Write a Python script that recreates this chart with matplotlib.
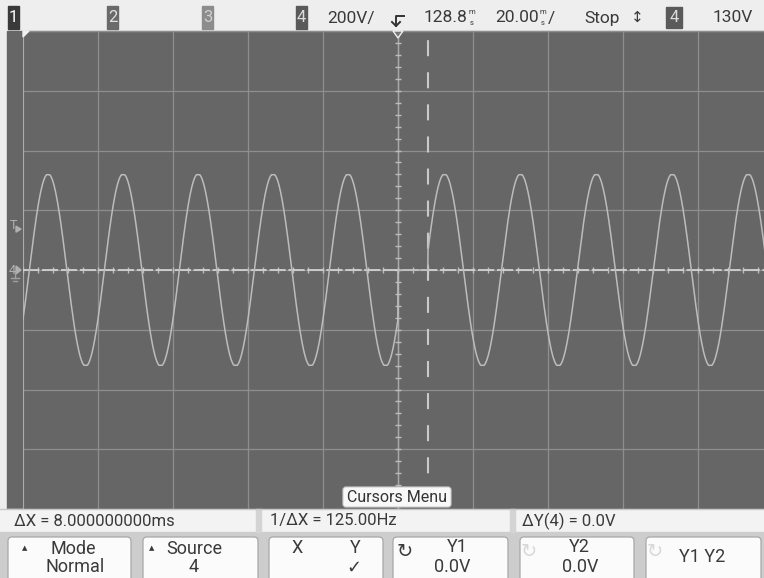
import numpy as np
import matplotlib
matplotlib.use('Agg')
from matplotlib import pyplot as plt
from matplotlib.patches import Rectangle, FancyBboxPatch, Polygon

# Scope settings.
time_per_div_ms = 20.0
volts_per_div = 200.0
trigger_level_v = 130.0

# Channel 4 trace: mains sine with an 8 ms dropout after the trigger.
amplitude_v = 322.0
flat_top_v = 319.0
period_before_ms = 20.0
period_after_ms = 20.25
peak_before_ms = -93.3
peak_after_ms = 12.4
dropout_start_ms = 0.0
dropout_end_ms = 8.0

# Cursors.
cursor_x1_ms = 0.0
cursor_x2_ms = 8.0
cursor_y_v = 0.0

# Texts.
top_channels = ['1', '2', '3', '4']
top_texts = ['200V/', '128.8', '20.00', 'Stop', '130V']
status_texts = ['\u0394X = 8.000000000ms', '1/\u0394X = 125.00Hz', '\u0394Y(4) = 0.0V']
softkey_top = ['Mode', 'Source', 'X', 'Y1', 'Y2']
softkey_bottom = ['Normal', '4', '\u2713', '0.0V', '0.0V']

W, H = 764, 578
NARROW = ['Liberation Sans Narrow', 'Roboto', 'DejaVu Sans']
UI = ['Roboto', 'DejaVu Sans']


def main():
    fig = plt.figure(figsize=(W / 100, H / 100), dpi=100)
    fig.patch.set_facecolor('#ededed')

    # Background UI layer in pixel coordinates.
    bg = fig.add_axes([0, 0, 1, 1], zorder=0)
    bg.set_xlim(0, W)
    bg.set_ylim(H, 0)
    bg.axis('off')
    bg.add_patch(Rectangle((0, 0), W, 31, color='#eeeeee'))
    bg.add_patch(Rectangle((7, 31), W, 478, color='#666666'))
    bg.add_patch(Rectangle((0, 509), W, 23, color='#f3f3f3'))
    bg.add_patch(Rectangle((0, 532), W, 46, color='#cdcdcd'))

    # Scope screen in real units.
    ax = fig.add_axes([23 / W, 1 - 509 / H, 750 / W, 478 / H], zorder=1)
    ax.set_facecolor('#666666')
    half_t = 5 * time_per_div_ms
    half_v = 4 * volts_per_div
    ax.set_xlim(-half_t, half_t)
    ax.set_ylim(-half_v, half_v)
    ax.set_xticks(np.arange(-half_t, half_t + 1, time_per_div_ms))
    ax.set_yticks(np.arange(-half_v, half_v + 1, volts_per_div))
    ax.tick_params(length=0, labelbottom=False, labelleft=False)
    ax.grid(True, color='#8e8e8e', lw=0.9)
    for s in ax.spines.values():
        s.set_visible(False)
    ax.axvline(-half_t, color='#adadad', lw=1.4)
    ax.axhline(half_v, color='#8e8e8e', lw=1.0)

    # Center crosshair with minor ticks.
    ax.axvline(0, color='#a9a9a9', lw=1.0)
    mt = np.arange(-half_t, half_t + 0.1, time_per_div_ms / 5)
    ax.plot(mt, np.zeros_like(mt), ls='none', marker='|', ms=4, mew=1.0, color='#bdbdbd')
    mv = np.arange(-half_v, half_v + 0.1, volts_per_div / 5)
    ax.plot(np.zeros_like(mv), mv, ls='none', marker='_', ms=4, mew=1.0, color='#bdbdbd')

    # Y1/Y2 cursors at 0 V.
    ax.axhline(cursor_y_v, color='#d2d2d2', lw=1.3, dashes=(9, 1.5))

    # X2 cursor.
    ax.plot([cursor_x2_ms, cursor_x2_ms], [half_v, -half_v], color='#c9c9c9', lw=1.5,
            linestyle=(11.0, (7.7, 7.7)))

    # Trace.
    t = np.linspace(-half_t, half_t, 4001)
    before = amplitude_v * np.cos(2 * np.pi * (t - peak_before_ms) / period_before_ms)
    after = amplitude_v * np.cos(2 * np.pi * (t - peak_after_ms) / period_after_ms)
    v = np.where(t < dropout_start_ms, before, np.where(t < dropout_end_ms, 0.0, after))
    v = np.clip(v, -flat_top_v, flat_top_v)
    ax.plot(t, v, color='#bcbcbc', lw=1.1)

    # Foreground UI layer.
    ui = fig.add_axes([0, 0, 1, 1], zorder=2)
    ui.set_xlim(0, W)
    ui.set_ylim(H, 0)
    ui.axis('off')
    ui.patch.set_alpha(0)

    # Top bar channel boxes.
    box_x = [8, 107, 202, 296]
    box_fc = ['#3a3a3a', '#6a6a6a', '#8c8c8c', '#5a5a5a']
    box_tc = ['#ffffff', '#e0e0e0', '#d0d0d0', '#dddddd']
    for name, x0, fc, tc in zip(top_channels, box_x, box_fc, box_tc):
        ui.add_patch(Rectangle((x0, 6), 11, 23, color=fc))
        ui.text(x0 + 5.5, 18, name, color=tc, fontsize=12, ha='center', va='center',
                family=NARROW)
    top_x = [327, 424, 495, 584, 713]
    for txt, x0 in zip(top_texts, top_x):
        ui.text(x0, 18, txt, color='#3a3a3a', fontsize=12.5, ha='left', va='center', family=NARROW)
    for x0 in [472, 543]:
        ui.text(x0, 12.5, 'm', color='#3a3a3a', fontsize=5.5, ha='center', va='center', family=NARROW)
        ui.text(x0, 23, 's', color='#3a3a3a', fontsize=5.5, ha='center', va='center', family=NARROW)
    ui.text(548, 18, '/', color='#3a3a3a', fontsize=12.5, ha='left', va='center', family=NARROW)
    ui.text(637, 18, '\u2195', color='#3a3a3a', fontsize=11, ha='center', va='center', family=UI)
    ui.add_patch(Rectangle((666, 7), 16, 21, color='#5a5a5a'))
    ui.text(674, 18, '4', color='#dddddd', fontsize=12, ha='center', va='center', family=NARROW)

    # Trigger edge icon and time reference marker.
    ui.plot([404, 396, 396], [16, 16, 26], color='#333333', lw=1.4)
    ui.plot([392, 396, 400], [22, 26, 22], color='#333333', lw=1.4)
    ui.add_patch(Polygon([[393, 31], [403, 31], [398, 38]], closed=True,
                         fc='#777777', ec='#f0f0f0', lw=1.0))
    ui.add_patch(Polygon([[23, 31], [29, 31], [23, 37]], closed=True, color='#f0f0f0'))

    # Left markers: trigger level and channel 4 ground.
    y_trig = 270 - trigger_level_v / volts_per_div * 59.75
    ui.text(13, y_trig - 6, 'T', color='#b0b0b0', fontsize=9, ha='center', va='center', family=UI)
    ui.add_patch(Polygon([[16, y_trig - 5], [21, y_trig - 2], [16, y_trig + 1]], closed=True,
                         color='#b0b0b0'))
    ui.text(12, 270, '4', color='#b0b0b0', fontsize=9, ha='center', va='center', family=UI)
    ui.add_patch(Polygon([[16, 266], [21, 270], [16, 274]], closed=True, color='#b0b0b0'))
    ui.plot([15, 15], [271, 278], color='#a0a0a0', lw=1)
    ui.plot([11, 19], [278, 278], color='#a0a0a0', lw=1)
    ui.plot([13, 17], [281, 281], color='#a0a0a0', lw=1)

    # Cursors Menu label.
    ui.add_patch(FancyBboxPatch((343, 487), 108, 20, boxstyle='round,pad=0,rounding_size=3',
                                fc='#f8f8f8', ec='#d0d0d0', lw=0.8))
    ui.text(397, 497.5, 'Cursors Menu', color='#333333', fontsize=11.5, ha='center',
            va='center', family=UI)

    # Status bar.
    ui.plot([0, W], [509, 509], color='#c8c8c8', lw=1)
    for xs in [258, 512]:
        ui.add_patch(Rectangle((xs - 2, 509), 5, 23, color='#d4d4d4'))
    for txt, x0 in zip(status_texts, [14, 270, 522]):
        ui.text(x0, 521, txt, color='#3a3a3a', fontsize=12, ha='left', va='center', family=UI)

    # Softkeys.
    keys = [(8, 131), (143, 258), (269, 383), (393, 508), (520, 634), (646, 761)]
    for x0, x1 in keys:
        ui.add_patch(FancyBboxPatch((x0, 537), x1 - x0, 50, boxstyle='round,pad=0,rounding_size=4',
                                    fc='#fbfbfb', ec='#a8a8a8', lw=0.9))
    kc = '#3a3a3a'
    ui.text(25, 549, '\u25b2', color=kc, fontsize=5, ha='center', va='center', family=UI)
    ui.text(152, 549, '\u25b2', color=kc, fontsize=5, ha='center', va='center', family=UI)
    top_pos = [(73, 549), (194, 549), (297, 548), (457, 547), (579, 547)]
    bot_pos = [(75, 567), (194, 567), (354, 568), (452, 567), (580, 567)]
    for txt, (x, y) in zip(softkey_top, top_pos):
        ui.text(x, y, txt, color=kc, fontsize=13, ha='center', va='center', family=UI)
    for txt, (x, y) in zip(softkey_bottom, bot_pos):
        ui.text(x, y, txt, color=kc, fontsize=13, ha='center', va='center',
                family=['DejaVu Sans'] if txt == '\u2713' else UI)
    ui.text(355, 548, 'Y', color=kc, fontsize=13, ha='center', va='center', family=UI)
    ui.text(405, 551, '\u21bb', color=kc, fontsize=14, ha='center', va='center', family=['DejaVu Sans'])
    ui.text(529, 551, '\u21bb', color='#d8d8d8', fontsize=14, ha='center', va='center', family=['DejaVu Sans'])
    ui.text(655, 551, '\u21bb', color='#d8d8d8', fontsize=14, ha='center', va='center', family=['DejaVu Sans'])
    ui.text(702, 557, 'Y1 Y2', color=kc, fontsize=13, ha='center', va='center', family=UI)

    fig.savefig('out.png', dpi=100)


if __name__ == '__main__':
    main()
